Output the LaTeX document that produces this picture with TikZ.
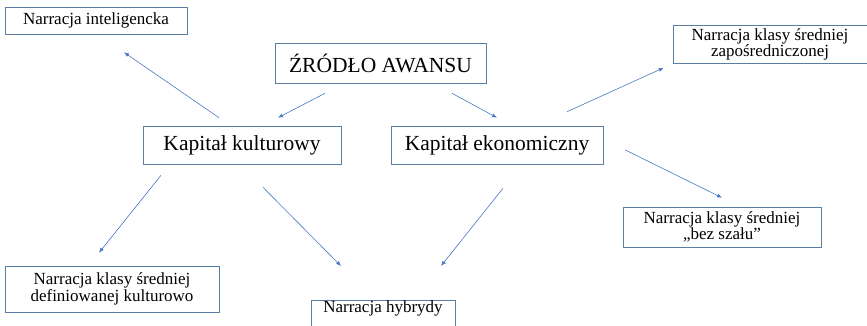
\documentclass[tikz,border=0pt]{standalone}
\usepackage{fontspec}
\setmainfont{Liberation Serif}
\usepackage{tikz}
\usetikzlibrary{calc,arrows.meta}

\definecolor{boxline}{HTML}{5A7DA3}
\definecolor{arrline}{HTML}{4A78C2}

\tikzset{
  box/.style={draw=boxline, line width=0.6pt, fill=white, inner sep=0pt, align=center},
  bigtext/.style={font=\fontsize{21.5}{23}\selectfont},
  smalltext/.style={font=\fontsize{17}{16.5}\selectfont},
  arr/.style={draw=arrline, line width=0.6pt, -{Latex[length=5pt,width=4pt]}}
}

\begin{document}
\begin{tikzpicture}[x=1pt, y=-1pt]
      \useasboundingbox (0, 0) rectangle (867, 325);
      \node[box, smalltext, minimum width=182, minimum height=27] (intel) at (96, 20.5) {Narracja inteligencka};
      \node[box, bigtext, minimum width=211, minimum height=40] (zrodlo) at (380.5, 63) {ŹRÓDŁO AWANSU};
      \node[box, bigtext, minimum width=198, minimum height=38] (kult) at (242, 145) {Kapitał kulturowy};
      \node[box, bigtext, minimum width=212, minimum height=38] (ekon) at (497, 145) {Kapitał ekonomiczny};
      \node[box, smalltext, minimum width=194, minimum height=38] (zapos) at (770, 44.5) {Narracja klasy średniej\\zapośredniczonej};
      \node[box, smalltext, minimum width=198, minimum height=40] (bez) at (722, 227) {Narracja klasy średniej\\„bez szału”};
      \node[box, smalltext, minimum width=214, minimum height=46] (defin) at (112, 289) {Narracja klasy średniej\\definiowanej kulturowo};
      \node[box, smalltext, minimum width=144, minimum height=30, anchor=north] (hyb) at (383, 300) {Narracja hybrydy\\[4pt]\strut};
      \draw[arr] ($(kult.north)+(-23,-8)$) -- ($(intel.south)+(28,18)$);
      \draw[arr] ($(zrodlo.south)+(-55.5,10)$) -- ($(kult.north)+(36,-8)$);
      \draw[arr] ($(zrodlo.south)+(71.5,10)$) -- ($(ekon.north)+(0,-8)$);
      \draw[arr] ($(ekon.north)+(70,-14)$) -- ($(zapos.south west)+(-9,4)$);
      \draw[arr] ($(ekon.east)+(22,5)$) -- ($(bez.north)+(0,-9)$);
      \draw[arr] ($(kult.south)+(-81,11)$) -- ($(defin.north)+(-13,-13)$);
      \draw[arr] ($(kult.south)+(21,23)$) -- ($(hyb.north)+(-42,-34)$);
      \draw[arr] ($(ekon.south)+(6,24)$) -- ($(hyb.north)+(58,-34)$);
    \end{tikzpicture}
\end{document}
